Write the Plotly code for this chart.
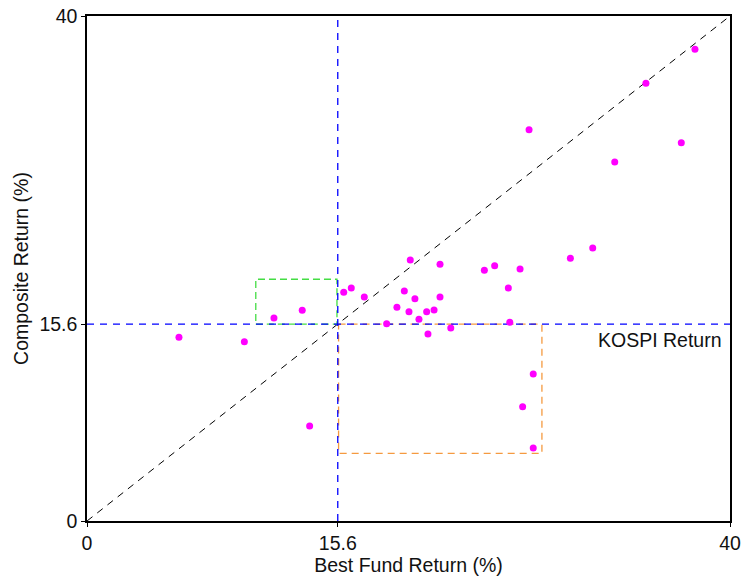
import plotly.graph_objects as go

# Data
best_fund = [5.72, 9.79, 11.63, 13.39, 13.85, 15.97, 16.44, 17.25, 20.11, 21.96,
             24.72, 25.36, 26.94, 19.74, 20.40, 21.96, 26.21, 19.28, 20.03, 21.13,
             21.59, 20.65, 18.64, 26.30, 22.63, 21.21, 37.82, 34.77, 27.50, 36.97,
             32.83, 31.46, 30.07, 27.76, 27.10, 27.76]
composite = [14.55, 14.20, 16.08, 16.69, 7.52, 18.11, 18.46, 17.74, 20.67, 20.33,
             19.86, 20.22, 19.96, 18.22, 17.61, 17.74, 18.46, 16.93, 16.58, 16.58,
             16.71, 15.98, 15.63, 15.74, 15.29, 14.81, 37.36, 34.67, 30.99, 29.96,
             28.44, 21.62, 20.81, 11.64, 9.05, 5.78]
kospi = 15.6
axis_range = [0, 40]
tick_vals = [0, 15.6, 40]
tick_text = ["0", "15.6", "40"]
green_box_x = [10.5, 15.55, 15.55, 10.5, 10.5]
green_box_y = [15.6, 15.6, 19.15, 19.15, 15.6]
orange_box_x = [15.65, 28.3, 28.3, 15.65, 15.65]
orange_box_y = [15.6, 15.6, 5.35, 5.35, 15.6]

FONT = "Liberation Sans, Arial"
fig = go.Figure()
# diagonal
fig.add_trace(go.Scatter(x=axis_range, y=axis_range, mode="lines",
                         line=dict(color="black", width=1, dash="7px,6px"),
                         hoverinfo="skip", showlegend=False))
# boxes
fig.add_trace(go.Scatter(x=green_box_x, y=green_box_y, mode="lines",
                         line=dict(color="#44dd44", width=1.3, dash="7px,4px"),
                         showlegend=False))
fig.add_trace(go.Scatter(x=orange_box_x, y=orange_box_y, mode="lines",
                         line=dict(color="#f59a40", width=1.3, dash="7px,5px"),
                         showlegend=False))
# KOSPI reference lines
fig.add_trace(go.Scatter(x=axis_range, y=[kospi, kospi], mode="lines",
                         line=dict(color="#0000ff", width=1.3, dash="7px,6px"),
                         showlegend=False))
fig.add_trace(go.Scatter(x=[kospi, kospi], y=axis_range, mode="lines",
                         line=dict(color="#0000ff", width=1.3, dash="7px,6px"),
                         showlegend=False))
# points
fig.add_trace(go.Scatter(x=best_fund, y=composite, mode="markers",
                         marker=dict(color="#ff00ff", size=7, line=dict(width=0)),
                         showlegend=False))

fig.add_annotation(x=39.6, y=14.35, text="KOSPI Return", showarrow=False,
                   xanchor="right", yanchor="middle",
                   font=dict(size=19.5, color="#111111", family=FONT))

axis_common = dict(range=axis_range, tickvals=tick_vals, ticktext=tick_text,
                   showgrid=False, zeroline=False, showline=True, linecolor="black",
                   linewidth=1.5, mirror=True, ticks="outside", ticklen=4,
                   tickcolor="black", automargin=False,
                   tickfont=dict(size=19.5, color="#111111", family=FONT))

fig.update_xaxes(**axis_common,
                 title=dict(text="Best Fund Return (%)", standoff=4,
                            font=dict(size=19.5, color="#111111", family=FONT)))
fig.update_yaxes(**axis_common,
                 title=dict(text="Composite Return (%)", standoff=6,
                            font=dict(size=19.5, color="#111111", family=FONT)))

fig.update_layout(width=741, height=577,
                  margin=dict(l=87, r=11, t=16, b=56),
                  paper_bgcolor="white", plot_bgcolor="white",
                  font=dict(family=FONT))

fig.write_html("out.html", config={"displayModeBar": False},
               post_script="document.body.style.margin='0';document.body.style.overflow='hidden';")
